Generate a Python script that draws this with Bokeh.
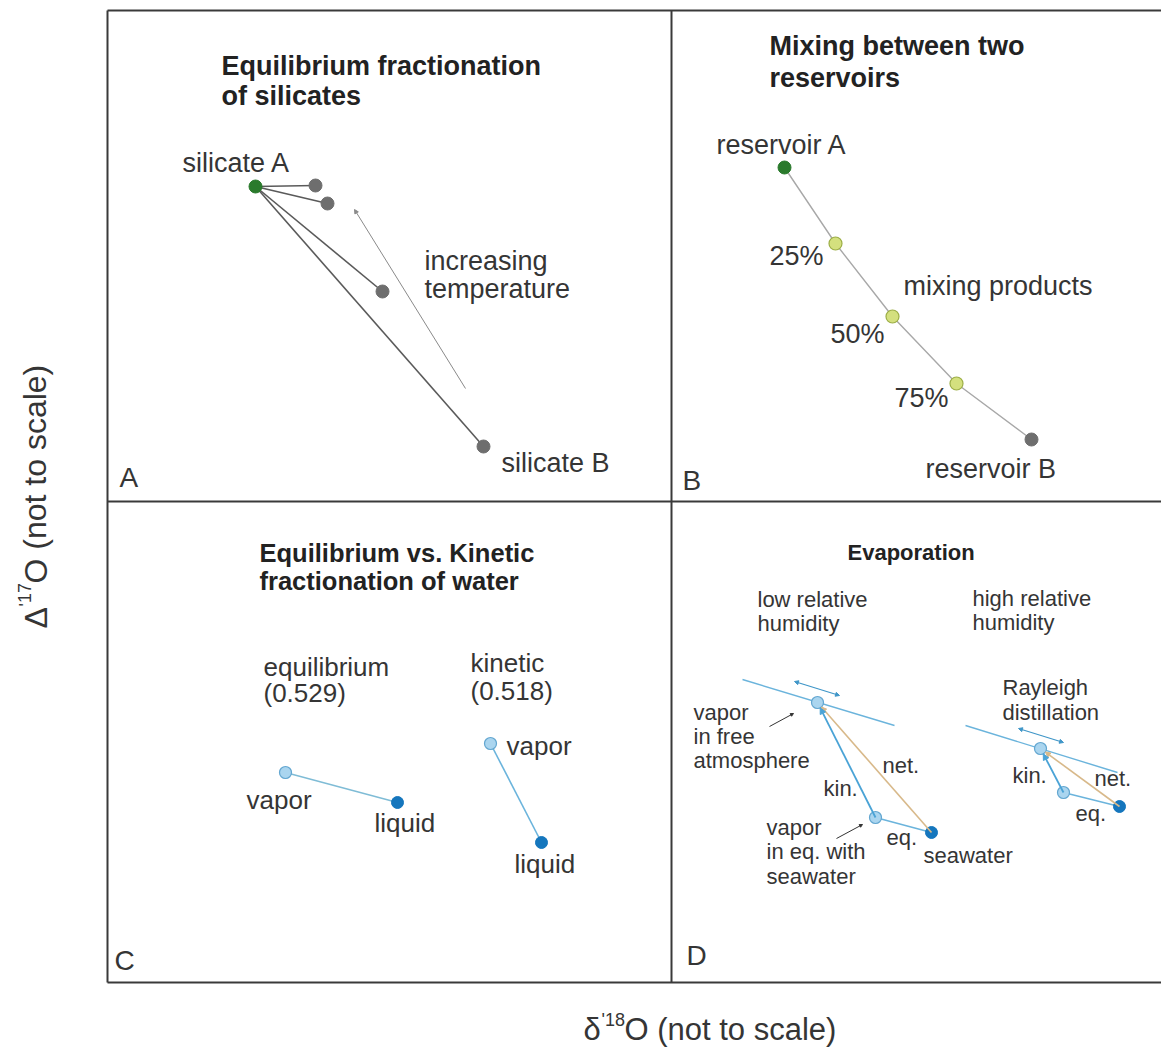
from bokeh.plotting import figure
from bokeh.models import Range1d, Arrow, NormalHead, ColumnDataSource
from bokeh.core.properties import value
from bokeh.embed import file_html
from bokeh.resources import INLINE

W, H = 1161, 1050
FONT = "Liberation Sans"
INK = "#353535"
TITLE_INK = "#222222"

# ---- schematic values (drawing units, y grows downward) ----
# frame of the four panels
frame_left, frame_mid_x, frame_right = 107, 671, 1161
frame_top, frame_mid_y, frame_bottom = 10, 501, 982

# A: equilibrium fractionation of silicates
silicate_a = (255, 186)
silicate_x = [315, 327, 382, 483]
silicate_y = [185, 203, 291, 446]
temp_arrow = [(465, 388), (354, 209)]

# B: mixing between two reservoirs
mix_x = [784, 835, 892, 956, 1031]
mix_y = [167, 243, 316, 383, 439]
mix_pct = ["25%", "50%", "75%"]
mix_pct_x = [769, 830, 894]
mix_pct_y = [255, 333, 397]

# C: equilibrium vs. kinetic fractionation of water
eq_pair_x = [285, 397]
eq_pair_y = [772, 802]
kin_pair_x = [490, 541]
kin_pair_y = [743, 842]

# D: evaporation (low and high relative humidity)
low_x = [817, 875, 931]        # free vapor, vapor in eq., seawater
low_y = [702, 817, 832]
low_mwl = [(742, 679), (894, 725)]
low_dbl = [(794, 681), (839, 695)]
high_x = [1040, 1063, 1119]
high_y = [748, 792, 806]
high_mwl = [(965, 725), (1117, 772)]
high_dbl = [(1018, 728), (1063, 742)]

# colours
GREEN = "#2a7a2c"
GREY_DOT = "#6e6e6e"
MIX_FILL = "#d4e07e"
MIX_LINE = "#9cae45"
VAPOR_FILL = "#aad5ef"
VAPOR_LINE = "#62a6d0"
LIQUID = "#1576bd"
BLUE_LINE = "#6bb4dc"
NET_LINE = "#d8b98a"

p = figure(width=W, height=H, x_range=Range1d(0, W), y_range=Range1d(H, 0),
           x_axis_location=None, y_axis_location=None,
           toolbar_location=None, output_backend="svg", min_border=0,
           background_fill_color="white", border_fill_color="white")
p.outline_line_color = None
p.grid.visible = False


def texts(rows, size, bold=False, color=INK, align="left"):
    src = ColumnDataSource(dict(t=[r[0] for r in rows], x=[r[1] for r in rows],
                                y=[r[2] for r in rows]))
    p.text(x="x", y="y", text="t", source=src, text_font=value(FONT),
           text_font_size=value(size), text_color=color,
           text_font_style="bold" if bold else "normal",
           text_align=align, text_baseline="middle")


def arrow(a, b, color, size, width=1.0, both=False):
    head = dict(size=size, fill_color=color, line_color=color, line_width=1)
    p.add_layout(Arrow(x_start=a[0], y_start=a[1], x_end=b[0], y_end=b[1],
                       line_color=color, line_width=width,
                       end=NormalHead(**head),
                       start=NormalHead(**head) if both else None))


# ---- panel frame ----
p.segment(x0=[frame_left] * 3, y0=[frame_top, frame_mid_y, frame_bottom],
          x1=[frame_right] * 3, y1=[frame_top, frame_mid_y, frame_bottom],
          line_color="#3a3a3a", line_width=2)
p.segment(x0=[frame_left, frame_mid_x], y0=[frame_top] * 2,
          x1=[frame_left, frame_mid_x], y1=[frame_bottom] * 2,
          line_color="#3a3a3a", line_width=2)

# ---- A ----
arrow(temp_arrow[0], temp_arrow[1], "#8a8a8a", 4, width=1)
p.segment(x0=[silicate_a[0]] * 4, y0=[silicate_a[1]] * 4, x1=silicate_x, y1=silicate_y,
          line_color="#5a5a5a", line_width=1.6)
p.scatter(silicate_x, silicate_y, size=13, fill_color=GREY_DOT, line_color=GREY_DOT)
p.scatter([silicate_a[0]], [silicate_a[1]], size=13, fill_color=GREEN, line_color=GREEN)
texts([("Equilibrium fractionation", 221, 65), ("of silicates", 221, 95)],
      "27px", bold=True, color=TITLE_INK)
texts([("silicate A", 182, 162), ("increasing", 424, 260), ("temperature", 424, 288),
       ("silicate B", 501, 462)], "27px")
texts([("A", 119, 477)], "28px")

# ---- B ----
p.line(mix_x, mix_y, line_color="#a8a8a8", line_width=1.4)
p.scatter(mix_x[1:4], mix_y[1:4], size=13, fill_color=MIX_FILL, line_color=MIX_LINE,
          line_width=1.2)
p.scatter([mix_x[0]], [mix_y[0]], size=13, fill_color=GREEN, line_color=GREEN)
p.scatter([mix_x[-1]], [mix_y[-1]], size=13, fill_color=GREY_DOT, line_color=GREY_DOT)
texts([("Mixing between two", 769, 45), ("reservoirs", 769, 77)],
      "27px", bold=True, color=TITLE_INK)
texts([("reservoir A", 716, 144), ("mixing products", 903, 285),
       ("reservoir B", 925, 468)] + list(zip(mix_pct, mix_pct_x, mix_pct_y)), "27px")
texts([("B", 682, 480)], "28px")

# ---- C ----
p.line(eq_pair_x, eq_pair_y, line_color="#7fbcd6", line_width=1.4)
p.line(kin_pair_x, kin_pair_y, line_color=BLUE_LINE, line_width=1.6)
p.scatter([eq_pair_x[0], kin_pair_x[0]], [eq_pair_y[0], kin_pair_y[0]], size=12,
          fill_color=VAPOR_FILL, line_color=VAPOR_LINE, line_width=1.2)
p.scatter([eq_pair_x[1], kin_pair_x[1]], [eq_pair_y[1], kin_pair_y[1]], size=12,
          fill_color=LIQUID, line_color=LIQUID)
texts([("Equilibrium vs. Kinetic", 259, 552), ("fractionation of water", 259, 580)],
      "25.5px", bold=True, color=TITLE_INK)
texts([("equilibrium", 263, 666), ("(0.529)", 263, 692), ("kinetic", 470, 662),
       ("(0.518)", 470, 690), ("vapor", 246, 799), ("liquid", 374, 822),
       ("vapor", 506, 745), ("liquid", 514, 863)], "26px")
texts([("C", 114, 960)], "28px")

# ---- D ----
for xs, ys, mwl, dbl in [(low_x, low_y, low_mwl, low_dbl),
                         (high_x, high_y, high_mwl, high_dbl)]:
    p.line([mwl[0][0], mwl[1][0]], [mwl[0][1], mwl[1][1]], line_color=BLUE_LINE,
           line_width=1.4)
    arrow(dbl[0], dbl[1], "#3f96c8", 4, width=1.2, both=True)
    # equilibrium step: seawater -> vapor in eq.
    p.line([xs[2], xs[1]], [ys[2], ys[1]], line_color=BLUE_LINE, line_width=1.6)
    # net effect: seawater -> free vapor
    dx, dy = xs[0] - xs[2], ys[0] - ys[2]
    n = (dx * dx + dy * dy) ** 0.5
    arrow((xs[2], ys[2]), (xs[0] - dx / n * 6, ys[0] - dy / n * 6), NET_LINE, 5, width=1.6)
    # kinetic step: vapor in eq. -> free vapor
    dx, dy = xs[0] - xs[1], ys[0] - ys[1]
    n = (dx * dx + dy * dy) ** 0.5
    arrow((xs[1], ys[1]), (xs[0] - dx / n * 6, ys[0] - dy / n * 6), "#4aa3d6", 6, width=1.8)
    p.scatter(xs[:2], ys[:2], size=12, fill_color=VAPOR_FILL, line_color=VAPOR_LINE,
              line_width=1.2)
    p.scatter([xs[2]], [ys[2]], size=12, fill_color=LIQUID, line_color=LIQUID)

arrow((769, 726), (793, 713), "#333333", 3, width=1)
arrow((836, 838), (862, 824), "#333333", 3, width=1)
texts([("Evaporation", 847, 552)], "22px", bold=True, color=TITLE_INK)
texts([("low relative", 757, 599), ("humidity", 757, 623),
       ("high relative", 972, 598), ("humidity", 972, 622),
       ("vapor", 693, 712), ("in free", 693, 736), ("atmosphere", 693, 760),
       ("net.", 882, 765), ("kin.", 823, 788),
       ("vapor", 766, 827), ("in eq. with", 766, 851), ("seawater", 766, 876),
       ("eq.", 886, 837), ("seawater", 923, 855),
       ("Rayleigh", 1002, 687), ("distillation", 1002, 712),
       ("kin.", 1012, 775), ("net.", 1094, 778), ("eq.", 1075, 813)], "22px")
texts([("D", 686, 955)], "28px")

# ---- shared axis titles ----
texts([("δ", 583, 1029), ("O (not to scale)", 624, 1029)], "31px")
texts([("'18", 601, 1019)], "18px")
src_y = ColumnDataSource(dict(t=["Δ", "O (not to scale)"], x=[35, 35], y=[628, 583]))
p.text(x="x", y="y", text="t", source=src_y, angle=1.5708, text_font=value(FONT),
       text_font_size=value("32px"), text_color=INK, text_align="left",
       text_baseline="middle")
src_s = ColumnDataSource(dict(t=["'17"], x=[25], y=[606]))
p.text(x="x", y="y", text="t", source=src_s, angle=1.5708, text_font=value(FONT),
       text_font_size=value("18px"), text_color=INK, text_align="left",
       text_baseline="middle")

open("out.html", "w").write(file_html(p, INLINE))
